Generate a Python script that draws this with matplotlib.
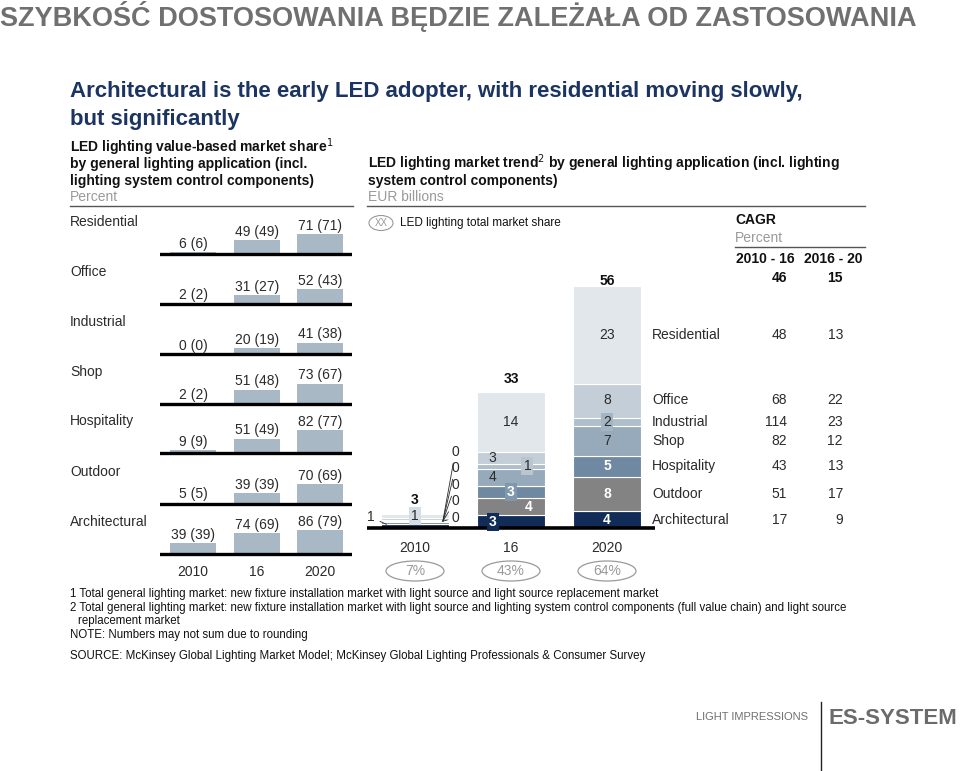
import matplotlib
matplotlib.use("Agg")
import matplotlib.pyplot as plt
from matplotlib.patches import Ellipse
from matplotlib.transforms import blended_transform_factory as blend

plt.rcParams['font.family'] = ['Liberation Sans', 'DejaVu Sans']

# ---- left: LED value-based market share, percent (bracket = earlier estimate) ----
share_apps = ["Residential", "Office", "Industrial", "Shop", "Hospitality", "Outdoor", "Architectural"]
share_years = ["2010", "16", "2020"]
share_val = [[6, 49, 71], [2, 31, 52], [0, 20, 41], [2, 51, 73], [9, 51, 82], [5, 39, 70], [39, 74, 86]]
share_prev = [[6, 49, 71], [2, 27, 43], [0, 19, 38], [2, 48, 67], [9, 49, 77], [5, 39, 69], [39, 69, 79]]

# ---- right: LED market trend, EUR bn, stacked bottom -> top ----
trend_years = ["2010", "16", "2020"]
trend_apps = ["Architectural", "Outdoor", "Hospitality", "Shop", "Industrial", "Office", "Residential"]
trend_2010 = [1, 0.4, 0.2, 0.3, 0.1, 0.3, 1]
trend_2016 = [3, 4, 3, 4, 1, 3, 14]
trend_2020 = [4, 8, 5, 7, 2, 8, 23]
trend_total = [3, 33, 56]
led_share = ["7%", "43%", "64%"]
cagr_1016 = [17, 51, 43, 82, 114, 68, 48]   # same order as trend_apps
cagr_1620 = [9, 17, 13, 12, 23, 22, 13]
cagr_total = [46, 15]

seg_colors = ["#102c57", "#838383", "#7089a2", "#97aabb", "#aebecb", "#c3ced8", "#e2e7ec"]
seg_white = [True, True, True, False, False, False, False]

W, H = 960, 771
fig = plt.figure(figsize=(W / 100, H / 100), dpi=100)
bg = fig.add_axes([0, 0, 1, 1])
bg.set_xlim(0, W)
bg.set_ylim(H, 0)
bg.set_axis_off()


def px_axes(x0, y0, x1, y1):
    a = fig.add_axes([x0 / W, 1 - y1 / H, (x1 - x0) / W, (y1 - y0) / H])
    a.set_axis_off()
    return a


DARK = "#2b2b2b"
GRAY = "#9a9a9a"

# ---- headings ----
bg.text(0, 16, "SZYBKOŚĆ DOSTOSOWANIA BĘDZIE ZALEŻAŁA OD ZASTOSOWANIA",
        fontsize=19.5, weight='bold', color="#707070", va='center')
navy = "#1c3461"
bg.text(70, 92, "Architectural is the early LED adopter, with residential moving slowly,",
        fontsize=16, weight='bold', color=navy, va='center')
bg.text(70, 119, "but significantly", fontsize=16, weight='bold', color=navy, va='center')

for y, s in [(147, "LED lighting value-based market share$^1$"),
             (164, "by general lighting application (incl."),
             (181, "lighting system control components)")]:
    bg.text(70, y, s, fontsize=10, weight='bold', color="#111", va='center')
bg.text(70, 197, "Percent", fontsize=10, color=GRAY, va='center')
bg.plot([70, 353], [206, 206], color="#555", lw=1)

bg.text(368, 163, "LED lighting market trend$^2$ by general lighting application (incl. lighting",
        fontsize=10, weight='bold', color="#111", va='center')
bg.text(368, 181, "system control components)", fontsize=10, weight='bold', color="#111", va='center')
bg.text(368, 197, "EUR billions", fontsize=10, color=GRAY, va='center')
bg.plot([367, 865], [206, 206], color="#555", lw=1)
bg.add_patch(Ellipse((381, 223), 24, 15, fc='none', ec=GRAY, lw=0.8))
bg.text(381, 223, "XX", fontsize=7, color=GRAY, ha='center', va='center')
bg.text(400, 223, "LED lighting total market share", fontsize=8.5, color="#111", va='center')

bg.text(735, 220, "CAGR", fontsize=10, weight='bold', color="#111", va='center')
bg.text(735, 238, "Percent", fontsize=10, color=GRAY, va='center')
bg.plot([735, 865], [247, 247], color="#555", lw=1)
bg.text(736, 259, "2010 - 16", fontsize=10, weight='bold', color="#111", va='center')
bg.text(804, 259, "2016 - 20", fontsize=10, weight='bold', color="#111", va='center')
bg.text(787, 278, str(cagr_total[0]), fontsize=10, weight='bold', color="#111", va='center', ha='right')
bg.text(843, 278, str(cagr_total[1]), fontsize=10, weight='bold', color="#111", va='center', ha='right')

# ---- left small multiples ----
scale = 0.28  # px per percent
bases = [254, 304, 354, 404, 453, 504, 554]
for i, app in enumerate(share_apps):
    b = bases[i]
    ax = px_axes(160, b - 47, 352, b + 3)
    ax.set_xlim(-0.52, 2.5)
    ax.set_ylim(-3 / scale, 47 / scale)
    ax.bar(range(3), share_val[i], width=0.72, color="#a9b8c5")
    ax.axhline(0, color="black", lw=2.4)
    for j in range(3):
        v = share_val[i][j]
        ax.text(j, v + 5, f"{v} ({share_prev[i][j]})", ha='center', va='bottom',
                fontsize=10, color=DARK)
    bg.text(70, b - 32, app, fontsize=10, color=DARK, va='center')
tr = blend(ax.transData, bg.transData)
for j, yr in enumerate(share_years):
    ax.text(j, 572, yr, transform=tr, ha='center', va='center', fontsize=10, color=DARK)

# ---- right stacked chart ----
k = 4.25  # px per EUR bn
axr = px_axes(367, 250, 655, 531)
axr.set_xlim(-0.5, 2.5)
axr.set_ylim(-3 / k, 278 / k)
series = [trend_2010, trend_2016, trend_2020]
bw = 0.71
for j, vals in enumerate(series):
    bottom = 0
    for s, v in enumerate(vals):
        axr.bar(j, v, bottom=bottom, width=bw, color=seg_colors[s], edgecolor='white', lw=0.8)
        bottom += v
axr.axhline(0, color="black", lw=2.6)

# segment labels, 2016 and 2020 (x offsets follow the original layout)
dx16 = [-0.19, 0.18, 0, -0.19, 0.17, -0.19, 0]
box16 = {0: "#102c57", 2: "#7f98ae", 4: "#b9c6d1"}
box20 = {4: "#a3b4c2"}
for j, dxs, boxes in [(1, dx16, box16), (2, [0] * 7, box20)]:
    vals = series[j]
    bottom = 0
    for s, v in enumerate(vals):
        kw = dict(ha='center', va='center', fontsize=10)
        if seg_white[s]:
            kw.update(color='white', weight='bold')
        else:
            kw.update(color=DARK)
        if s in boxes:
            kw['bbox'] = dict(boxstyle='square,pad=0.15', fc=boxes[s], ec='none')
        axr.text(j + dxs[s], bottom + v / 2, f"{v:.0f}", **kw)
        bottom += v

# 2010: labels outside with leader lines
v10 = trend_2010
axr.annotate(f"{v10[0]:.0f}", xy=(-0.27, 0.6), xytext=(-0.46, 2.5), ha='center', va='center',
             fontsize=10, color=DARK, arrowprops=dict(arrowstyle='-', lw=0.6, color=DARK))
zero_y = [2.4, 6.4, 10.1, 14.1, 17.9]
for s, yy in zip(range(1, 6), zero_y):
    axr.annotate(f"{v10[s]:.0f}", xy=(0.29, 1.6), xytext=(0.42, yy), ha='center', va='center',
                 fontsize=10, color=DARK,
                 arrowprops=dict(arrowstyle='-', lw=0.6, color=DARK, shrinkA=1, shrinkB=0))
axr.text(0, sum(v10[:6]) + v10[6] / 2, f"{v10[6]:.0f}", ha='center', va='center', fontsize=10,
         color=DARK, bbox=dict(boxstyle='square,pad=0.15', fc="#d6dde4", ec='none'))

for j, t in enumerate(trend_total):
    axr.text(j, max(t, 4.5) + 2, str(t), ha='center', va='center', fontsize=10,
             weight='bold', color="#111")

trx = blend(axr.transData, bg.transData)
for j, yr in enumerate(trend_years):
    axr.text(j, 548, yr, transform=trx, ha='center', va='center', fontsize=10, color=DARK)
    axr.add_patch(Ellipse((j, 571), 58 / 96, 20, transform=trx, fc='none', ec=GRAY,
                          lw=0.9, clip_on=False))
    axr.text(j, 571, led_share[j], transform=trx, ha='center', va='center', fontsize=10,
             color=GRAY)

# app names + CAGR aligned to 2020 segments
try_ = blend(bg.transData, axr.transData)
bottom = 0
for s, v in enumerate(trend_2020):
    yc = bottom + v / 2
    bottom += v
    axr.text(652, yc, trend_apps[s], transform=try_, va='center', fontsize=10, color=DARK)
    axr.text(787, yc, str(cagr_1016[s]), transform=try_, va='center', ha='right',
             fontsize=10, color=DARK)
    axr.text(843, yc, str(cagr_1620[s]), transform=try_, va='center', ha='right',
             fontsize=10, color=DARK)

# ---- footnotes ----
notes = [(594, 70, "1 Total general lighting market: new fixture installation market with light source and light source replacement market"),
         (608, 70, "2 Total general lighting market: new fixture installation market with light source and lighting system control components (full value chain) and light source"),
         (621, 78, "replacement market"),
         (635, 70, "NOTE: Numbers may not sum due to rounding"),
         (656, 70, "SOURCE: McKinsey Global Lighting Market Model; McKinsey Global Lighting Professionals & Consumer Survey")]
for y, x, s in notes:
    bg.text(x, y, s, fontsize=8.3, color="#111", va='center')

# ---- branding ----
bg.text(808, 717, "LIGHT IMPRESSIONS", fontsize=8, color="#707070", va='center', ha='right')
bg.plot([821, 821], [702, 771], color="#222", lw=1)
bg.text(828, 718, "ES-SYSTEM", fontsize=16, weight='bold', color="#6b6b6b", va='center')

fig.savefig("out.png", dpi=100)
